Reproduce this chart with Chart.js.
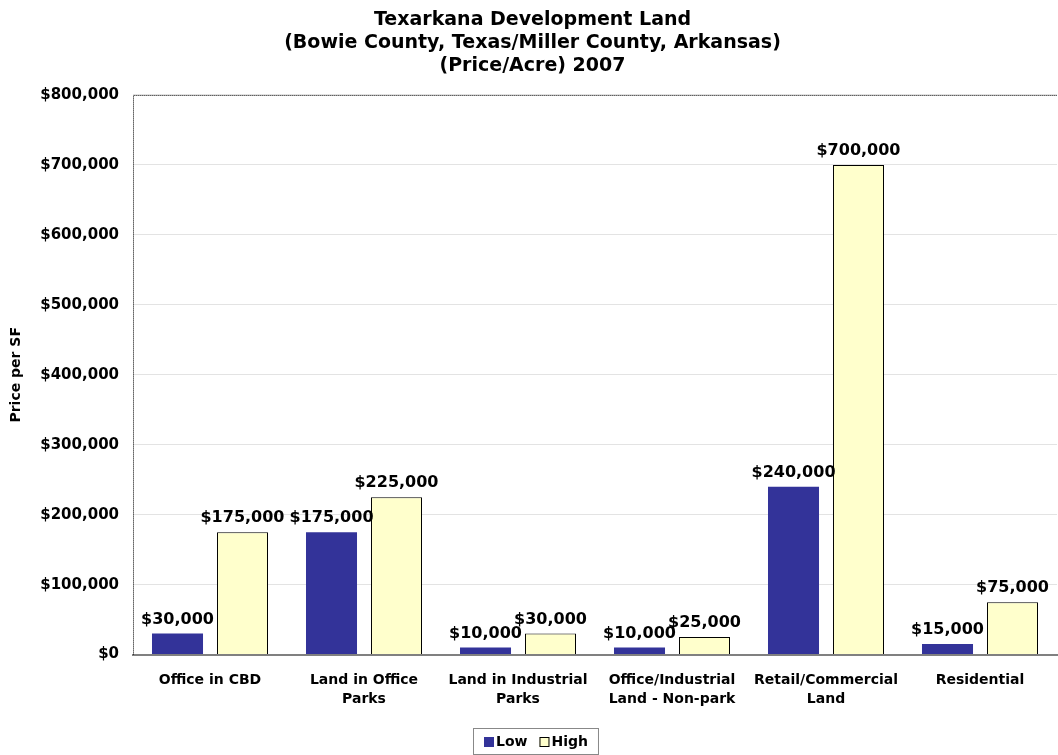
<!DOCTYPE html>
<html>
<head>
<meta charset="utf-8">
<script src="https://cdn.jsdelivr.net/npm/chart.js@4.4.1/dist/chart.umd.min.js"></script>
<style>
  html, body { margin: 0; padding: 0; background: #fff; }
  #chart { display: block; }
</style>
</head>
<body>
<canvas id="chart" width="1058" height="755"></canvas>
<script>
const categories = [
  'Office in CBD',
  ['Land in Office', 'Parks'],
  ['Land in Industrial', 'Parks'],
  ['Office/Industrial', 'Land - Non-park'],
  ['Retail/Commercial', 'Land'],
  'Residential'
]
const lowPrices = [30000, 175000, 10000, 10000, 240000, 15000]
const highPrices = [175000, 225000, 30000, 25000, 700000, 75000]
const titleLines = [
  'Texarkana Development Land',
  '(Bowie County, Texas/Miller County, Arkansas)',
  '(Price/Acre) 2007'
]

const fontFamily = '"DejaVu Sans", Verdana, sans-serif'
const money = v => '$' + v.toLocaleString('en-US')

// value labels above each bar
const barLabels = {
  id: 'barLabels',
  afterDatasetsDraw: (chart) => {
    const ctx = chart.ctx
    ctx.save()
    ctx.font = `bold 16px ${fontFamily}`
    ctx.fillStyle = '#000'
    ctx.textAlign = 'center'
    ctx.textBaseline = 'bottom'
    chart.data.datasets.forEach((ds, i) => {
      chart.getDatasetMeta(i).data.forEach((bar, j) => {
        ctx.fillText(money(ds.data[j]), bar.x, bar.y - 6)
      })
    })
    ctx.restore()
  }
}

// dotted left and top edges of the plot, plus a compact framed legend underneath
const frame = {
  id: 'frame',
  afterDraw: (chart) => {
    const ctx = chart.ctx
    const area = chart.chartArea
    ctx.save()
    ctx.strokeStyle = '#000'
    ctx.lineWidth = 1
    ctx.setLineDash([1, 1])
    ctx.beginPath()
    ctx.moveTo(area.left + 0.5, area.bottom)
    ctx.lineTo(area.left + 0.5, area.top + 0.5)
    ctx.lineTo(area.right, area.top + 0.5)
    ctx.stroke()
    ctx.setLineDash([])

    ctx.font = `bold 14px ${fontFamily}`
    ctx.textBaseline = 'middle'
    ctx.textAlign = 'left'
    const items = chart.data.datasets.map(ds => ({
      ds, w: 12 + ctx.measureText(ds.label).width
    }))
    const gap = 12
    const inner = items.reduce((s, it) => s + it.w, 0) + gap * (items.length - 1)
    const boxW = inner + 21
    const boxX = Math.round(chart.width / 2 - boxW / 2 + 6)
    const boxY = 728
    ctx.strokeStyle = '#888'
    ctx.strokeRect(boxX + 0.5, boxY + 0.5, boxW, 26)
    let x = boxX + 11
    const cy = boxY + 14
    items.forEach(it => {
      ctx.fillStyle = it.ds.backgroundColor
      ctx.fillRect(x, cy - 5, 10, 10)
      if (it.ds.borderWidth) {
        ctx.strokeStyle = '#000'
        ctx.strokeRect(x + 0.5, cy - 4.5, 9, 9)
      }
      ctx.fillStyle = '#000'
      ctx.fillText(it.ds.label, x + 12, cy)
      x += it.w + gap
    })
    ctx.restore()
  }
}

const ctx = document.getElementById('chart').getContext('2d')
new Chart(ctx, {
  type: 'bar',
  data: {
    labels: categories,
    datasets: [{
      label: 'Low',
      data: lowPrices,
      backgroundColor: '#333399',
      borderColor: '#333399',
      borderWidth: 0,
      categoryPercentage: 0.844,
      barPercentage: 0.785
    }, {
      label: 'High',
      data: highPrices,
      backgroundColor: '#FFFFCC',
      borderColor: '#000',
      borderWidth: 1,
      categoryPercentage: 0.844,
      barPercentage: 0.785
    }]
  },
  options: {
    responsive: false,
    devicePixelRatio: 1,
    animation: false,
    layout: { padding: { left: 8, right: 1, top: 0, bottom: 38 } },
    scales: {
      x: {
        grid: { display: false },
        border: { color: '#808080', width: 2 },
        ticks: {
          color: '#000',
          font: { family: fontFamily, size: 14, weight: 'bold', lineHeight: 1.3 },
          maxRotation: 0,
          autoSkip: false,
          padding: 9
        }
      },
      y: {
        min: 0,
        max: 800000,
        afterFit: (scale) => { scale.width = 125 },
        grid: { color: '#e3e3e3', drawTicks: false },
        border: { display: false },
        title: {
          display: true,
          text: 'Price per SF',
          color: '#000',
          font: { family: fontFamily, size: 14, weight: 'bold' },
          padding: 0
        },
        ticks: {
          stepSize: 100000,
          color: '#000',
          padding: 14,
          font: { family: fontFamily, size: 15, weight: 'bold' },
          callback: v => money(v)
        }
      }
    },
    plugins: {
      title: {
        display: true,
        text: titleLines,
        color: '#000',
        font: { family: fontFamily, size: 19, weight: 'bold', lineHeight: 1.21 },
        padding: { top: 9, bottom: 17 }
      },
      legend: { display: false },
      tooltip: { enabled: false }
    }
  },
  plugins: [barLabels, frame]
})
</script>
</body>
</html>
